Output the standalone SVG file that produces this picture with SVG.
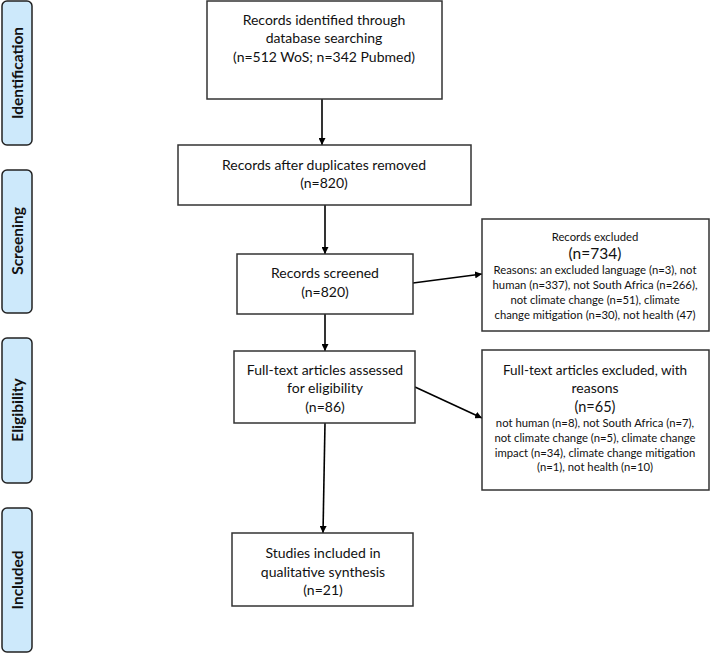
<svg xmlns="http://www.w3.org/2000/svg" width="710" height="653" viewBox="0 0 710 653">
<defs>
<marker id="ah" viewBox="0 0 10 10" refX="10" refY="5" markerWidth="7" markerHeight="7" markerUnits="userSpaceOnUse" orient="auto">
<path d="M0,0 L10,5 L0,10 z" fill="#000"/>
</marker>
</defs>
<style>
.box{fill:#fff;stroke:#333;stroke-width:1.5}
.side{fill:#cde9fb;stroke:#222;stroke-width:1.5}
.t{font-family:Lato,"Liberation Sans",sans-serif;font-size:14px;fill:#111;text-anchor:middle}
.s{font-family:Lato,"Liberation Sans",sans-serif;font-size:11.3px;fill:#111;text-anchor:middle}
.st{font-family:Lato,"Liberation Sans",sans-serif;font-size:15.5px;font-weight:bold;fill:#111;text-anchor:middle}
.c{stroke:#000;stroke-width:1.6;fill:none;marker-end:url(#ah)}
</style>
<rect width="710" height="653" fill="#fff"/>
<g id="side-identification"><rect class="side" x="2" y="1" width="30" height="144" rx="5"/><text class="st" transform="translate(23,73) rotate(-90)">Identification</text></g>
<g id="side-screening"><rect class="side" x="2" y="170" width="30" height="143" rx="5"/><text class="st" transform="translate(23,241) rotate(-90)">Screening</text></g>
<g id="side-eligibility"><rect class="side" x="2" y="338" width="30" height="145" rx="5"/><text class="st" transform="translate(23,410) rotate(-90)">Eligibility</text></g>
<g id="side-included"><rect class="side" x="2" y="508" width="30" height="144" rx="5"/><text class="st" transform="translate(23,580) rotate(-90)">Included</text></g>
<g id="connectors">
<line class="c" x1="322" y1="99" x2="322" y2="145"/>
<line class="c" x1="325" y1="205" x2="325" y2="254"/>
<line class="c" x1="325" y1="314" x2="325" y2="351"/>
<line class="c" x1="413" y1="283" x2="482" y2="274"/>
<line class="c" x1="415" y1="387" x2="482" y2="418"/>
<line class="c" x1="325" y1="423" x2="323" y2="533"/>
</g>
<g id="n1"><rect class="box" x="207" y="1" width="235" height="98"/>
<text class="t" x="324" y="25">Records identified through</text>
<text class="t" x="324" y="43">database searching</text>
<text class="t" x="324" y="62">(n=512 WoS; n=342 Pubmed)</text></g>
<g id="n2"><rect class="box" x="178" y="145" width="293" height="60"/>
<text class="t" x="324" y="170">Records after duplicates removed</text>
<text class="t" x="324" y="188">(n=820)</text></g>
<g id="n3"><rect class="box" x="237" y="254" width="176" height="60"/>
<text class="t" x="325" y="278">Records screened</text>
<text class="t" x="325" y="297">(n=820)</text></g>
<g id="n4"><rect class="box" x="234" y="351" width="181" height="72"/>
<text class="t" x="325" y="375">Full-text articles assessed</text>
<text class="t" x="325" y="393">for eligibility</text>
<text class="t" x="325" y="412">(n=86)</text></g>
<g id="n5"><rect class="box" x="232" y="533" width="181" height="73"/>
<text class="t" x="323" y="558">Studies included in</text>
<text class="t" x="323" y="577">qualitative synthesis</text>
<text class="t" x="323" y="595">(n=21)</text></g>
<g id="x1"><rect class="box" x="482" y="219" width="227" height="112"/>
<text class="s" x="595" y="241">Records excluded</text>
<text class="t" x="595" y="259" style="font-size:15.5px">(n=734)</text>
<text class="s" x="595" y="274">Reasons: an excluded language (n=3), not</text>
<text class="s" x="595" y="289">human (n=337), not South Africa (n=266),</text>
<text class="s" x="595" y="304">not climate change (n=51), climate</text>
<text class="s" x="595" y="319">change mitigation (n=30), not health (47)</text></g>
<g id="x2"><rect class="box" x="482" y="350" width="227" height="140"/>
<text class="t" x="595" y="375" style="font-size:13.5px">Full-text articles excluded, with</text>
<text class="t" x="595" y="393">reasons</text>
<text class="t" x="595" y="412" style="font-size:14.5px">(n=65)</text>
<text class="s" x="595" y="427">not human (n=8), not South Africa (n=7),</text>
<text class="s" x="595" y="442">not climate change (n=5), climate change</text>
<text class="s" x="595" y="457">impact (n=34), climate change mitigation</text>
<text class="s" x="595" y="471">(n=1), not health (n=10)</text></g>
</svg>
